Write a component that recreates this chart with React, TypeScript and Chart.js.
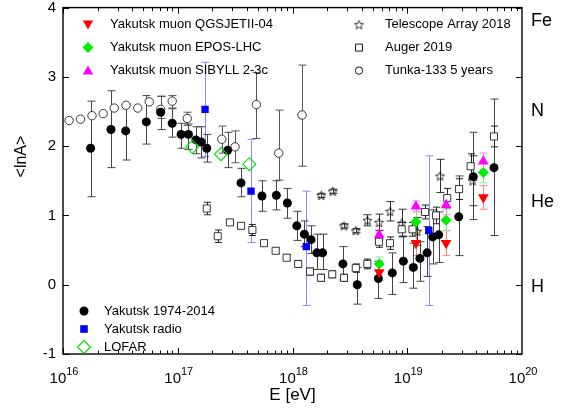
import React, { useEffect, useRef } from 'react';
import { Chart, registerables } from 'chart.js';
Chart.register(...registerables);

const FONT = '"Liberation Sans", Arial, sans-serif';

// ---- axes ----
const xMin = 1e16;
const xMax = 1e20;
const yMin = -1;
const yMax = 4;
const yTicks = [-1, 0, 1, 2, 3, 4];
const xDecades = [16, 17, 18, 19, 20];
const rightLabels = ['Fe', 'N', 'He', 'H'];
const rightLabelValues = [3.81, 2.5, 1.19, -0.03];
const xTitle = 'E [eV]';
const yTitle = '<lnA>';

// ---- Yakutsk 1974-2014 ----
const yakE = [1.74e16, 2.62e16, 3.52e16, 5.32e16, 7.10e16, 8.95e16, 1.07e17, 1.24e17, 1.44e17, 1.60e17, 1.79e17, 2.72e17, 3.56e17, 5.42e17, 7.23e17, 9.02e17, 1.09e18, 1.27e18, 1.45e18, 1.63e18, 1.83e18, 2.75e18, 3.67e18, 5.60e18, 7.41e18, 9.25e18, 1.13e19, 1.29e19, 1.49e19, 1.67e19, 1.88e19, 2.81e19, 3.76e19, 5.70e19];
const yakLnA = [1.97, 2.24, 2.22, 2.35, 2.49, 2.33, 2.17, 2.17, 2.09, 2.06, 1.97, 1.94, 1.47, 1.28, 1.29, 1.18, 0.85, 0.73, 0.65, 0.46, 0.46, 0.30, 0.00, 0.09, 0.17, 0.34, 0.25, 0.38, 0.46, 0.69, 0.72, 0.98, 1.56, 1.69];
const yakLo = [1.27, 1.69, 1.80, 2.03, 2.24, 2.13, 1.97, 1.95, 1.89, 1.83, 1.77, 1.69, 1.27, 1.06, 1.08, 0.96, 0.64, 0.55, 0.45, 0.22, 0.22, 0.07, -0.28, -0.20, -0.14, 0.03, -0.05, 0.05, 0.12, 0.30, 0.32, 0.42, 0.94, 0.71];
const yakHi = [2.65, 2.80, 2.61, 2.73, 2.72, 2.54, 2.33, 2.32, 2.28, 2.28, 2.17, 2.20, 1.68, 1.50, 1.50, 1.39, 1.06, 0.92, 0.85, 0.73, 0.73, 0.55, 0.25, 0.34, 0.46, 0.70, 0.60, 0.62, 0.84, 1.08, 1.05, 1.57, 2.20, 2.68];

// ---- Tunka-133 5 years ----
const tunE = [1.13e16, 1.42e16, 1.79e16, 2.24e16, 2.80e16, 3.54e16, 4.48e16, 5.65e16, 7.10e16, 8.95e16, 1.21e17, 2.42e17, 3.16e17, 4.84e17, 7.59e17, 1.21e18];
const tunLnA = [2.37, 2.39, 2.44, 2.47, 2.55, 2.59, 2.55, 2.64, 2.53, 2.65, 2.40, 2.10, 1.99, 2.60, 1.90, 2.45];
const tunLo = [null, null, null, null, null, null, null, null, 2.40, 2.55, 2.30, 1.90, 1.76, 2.11, 1.51, 1.71];
const tunHi = [null, null, null, null, null, null, null, null, 2.72, 2.73, 2.49, 2.29, 2.22, 3.06, 2.52, 3.17];

// ---- Auger 2019 ----
const augE = [1.79e17, 2.23e17, 2.85e17, 3.56e17, 4.47e17, 5.65e17, 7.13e17, 8.89e17, 1.12e18, 1.42e18, 1.77e18, 2.22e18, 2.81e18, 3.56e18, 4.49e18, 5.68e18, 7.08e18, 8.95e18, 1.11e19, 1.43e19, 1.78e19, 2.23e19, 2.83e19, 3.57e19, 5.70e19];
const augLnA = [1.10, 0.70, 0.90, 0.85, 0.79, 0.60, 0.49, 0.39, 0.30, 0.19, 0.10, 0.15, 0.10, 0.24, 0.30, 0.62, 0.60, 0.80, 0.80, 1.05, 1.00, 1.25, 1.38, 1.71, 2.14];
const augErr = [0.09, 0.09, 0.04, 0.04, 0.08, 0.04, 0.04, 0.04, 0.05, 0.05, 0.05, 0.05, 0.05, 0.06, 0.07, 0.08, 0.09, 0.10, 0.10, 0.10, 0.12, 0.14, 0.15, 0.18, 0.15];

// ---- Telescope Array 2018 ----
const taE = [1.78e18, 2.24e18, 2.81e18, 3.56e18, 4.49e18, 5.68e18, 7.08e18, 8.95e18, 1.22e19, 1.93e19, 3.72e19];
const taLnA = [1.29, 1.35, 0.85, 0.78, 0.93, 0.90, 1.06, 0.89, 0.77, 1.57, 1.50];
const taErr = [0.03, 0.03, 0.03, 0.03, 0.08, 0.12, 0.14, 0.20, 0.20, 0.24, 0.36];

// ---- Yakutsk muon ----
const muonE = [5.70e18, 1.19e19, 2.18e19, 4.60e19];
const muonQGS = [0.18, 0.60, 0.60, 1.26];
const muonEPOS = [0.30, 0.91, 0.93, 1.62];
const muonSIB = [0.72, 1.13, 1.15, 1.78];
const muonQGSErr = [0.12, 0.18, 0.18, 0.17];
const muonEPOSErr = [0.10, 0.15, 0.15, 0.15];
const muonSIBErr = [0.07, 0.08, 0.14, 0.12];

// ---- Yakutsk radio ----
const radE = [1.73e17, 4.35e17, 1.32e18, 1.54e19];
const radLnA = [2.53, 1.35, 0.55, 0.78];
const radLo = [1.85, 0.61, -0.30, -0.30];
const radHi = [3.21, 2.10, 1.35, 1.86];

// ---- LOFAR ----
const lofE = [1.34e17, 2.38e17, 4.21e17];
const lofLnA = [1.99, 1.885, 1.74];

const legendLeftTop = ['Yakutsk muon QGSJETII-04', 'Yakutsk muon EPOS-LHC', 'Yakutsk muon SIBYLL 2-3c'];
const legendRightTop = ['Telescope Array 2018', 'Auger 2019', 'Tunka-133 5 years'];
const legendLeftBottom = ['Yakutsk 1974-2014', 'Yakutsk radio', 'LOFAR'];

function withBounds(E: number[], v: number[], lo: (number | null)[], hi: (number | null)[]) {
  return E.map((x, i) => ({ x, y: v[i], lo: lo[i], hi: hi[i] }));
}
function withErr(E: number[], v: number[], err: number[]) {
  return E.map((x, i) => ({ x, y: v[i], lo: v[i] - err[i], hi: v[i] + err[i] }));
}

function makeStar(size: number) {
  const c = document.createElement('canvas');
  c.width = size;
  c.height = size;
  const g = c.getContext('2d')!;
  const cx = size / 2, cy = size / 2 + 0.5;
  const R = size / 2 - 0.8, r = R * 0.45;
  g.beginPath();
  for (let i = 0; i < 10; i++) {
    const a = -Math.PI / 2 + (i * Math.PI) / 5;
    const rr = i % 2 === 0 ? R : r;
    g.lineTo(cx + rr * Math.cos(a), cy + rr * Math.sin(a));
  }
  g.closePath();
  g.strokeStyle = '#000';
  g.lineWidth = 0.8;
  g.stroke();
  return c;
}

function drawMarker(ctx: CanvasRenderingContext2D, kind: string, x: number, y: number, r: number, fill: string | null, stroke: string | null, lw = 1, img?: HTMLCanvasElement) {
  ctx.save();
  if (kind === 'image' && img) {
    ctx.drawImage(img, x - img.width / 2, y - img.height / 2);
    ctx.restore();
    return;
  }
  ctx.beginPath();
  if (kind === 'circle') ctx.arc(x, y, r, 0, Math.PI * 2);
  else if (kind === 'rect') ctx.rect(x - r, y - r, 2 * r, 2 * r);
  else if (kind === 'diamond') {
    ctx.moveTo(x, y - r); ctx.lineTo(x + r, y); ctx.lineTo(x, y + r); ctx.lineTo(x - r, y); ctx.closePath();
  } else if (kind === 'tri') {
    ctx.moveTo(x, y - r); ctx.lineTo(x + r * 0.87, y + r * 0.5); ctx.lineTo(x - r * 0.87, y + r * 0.5); ctx.closePath();
  } else if (kind === 'triDown') {
    ctx.moveTo(x, y + r); ctx.lineTo(x + r * 0.87, y - r * 0.5); ctx.lineTo(x - r * 0.87, y - r * 0.5); ctx.closePath();
  }
  if (fill) { ctx.fillStyle = fill; ctx.fill(); }
  if (stroke) { ctx.strokeStyle = stroke; ctx.lineWidth = lw; ctx.stroke(); }
  ctx.restore();
}

const errorBarPlugin = {
  id: 'errbars',
  beforeDatasetsDraw(chart: any) {
    const ctx = chart.ctx;
    const xs = chart.scales.x, ys = chart.scales.y;
    ctx.save();
    chart.data.datasets.forEach((ds: any) => {
      if (!ds.errColor) return;
      ctx.strokeStyle = ds.errColor;
      ctx.lineWidth = ds.errWidth || 1;
      const cap = ds.errCap ?? 4;
      ds.data.forEach((p: any) => {
        if (p.lo == null || p.hi == null) return;
        const px = Math.round(xs.getPixelForValue(p.x)) + 0.5;
        const y1 = ys.getPixelForValue(p.lo), y2 = ys.getPixelForValue(p.hi);
        ctx.beginPath();
        ctx.moveTo(px, y1); ctx.lineTo(px, y2);
        ctx.moveTo(px - cap, y1); ctx.lineTo(px + cap, y1);
        ctx.moveTo(px - cap, y2); ctx.lineTo(px + cap, y2);
        ctx.stroke();
      });
    });
    ctx.restore();
  },
};

function makeFramePlugin(star: HTMLCanvasElement) {
  return {
    id: 'frame',
    afterDraw(chart: any) {
      const ctx: CanvasRenderingContext2D = chart.ctx;
      const xs = chart.scales.x, ys = chart.scales.y;
      const { left, right, top, bottom } = chart.chartArea;
      ctx.save();
      // frame
      ctx.strokeStyle = '#000';
      ctx.lineWidth = 1.4;
      ctx.strokeRect(left, top, right - left, bottom - top);
      // x ticks
      ctx.lineWidth = 1;
      ctx.beginPath();
      for (let d = 16; d < 20; d++) {
        for (let m = 1; m <= 9; m++) {
          const v = m * Math.pow(10, d);
          const px = Math.round(xs.getPixelForValue(v)) + 0.5;
          const len = m === 1 ? 6 : 3.5;
          ctx.moveTo(px, bottom); ctx.lineTo(px, bottom - len);
          ctx.moveTo(px, top); ctx.lineTo(px, top + len);
        }
      }
      // y ticks
      yTicks.forEach((t) => {
        const py = Math.round(ys.getPixelForValue(t)) + 0.5;
        ctx.moveTo(left, py); ctx.lineTo(left + 6, py);
        ctx.moveTo(right, py); ctx.lineTo(right - 6, py);
      });
      ctx.stroke();

      ctx.fillStyle = '#000';
      // y tick labels
      ctx.font = `15px ${FONT}`;
      ctx.textAlign = 'right';
      ctx.textBaseline = 'middle';
      yTicks.forEach((t) => {
        ctx.fillText(String(t), left - 7, ys.getPixelForValue(t));
      });
      // x tick labels 10^n
      ctx.textAlign = 'left';
      ctx.textBaseline = 'alphabetic';
      xDecades.forEach((d) => {
        const px = xs.getPixelForValue(Math.pow(10, d));
        ctx.font = `15px ${FONT}`;
        const w1 = ctx.measureText('10').width;
        ctx.font = `11px ${FONT}`;
        const w2 = ctx.measureText(String(d)).width;
        const x0 = px - (w1 + w2) / 2 + 1;
        ctx.font = `15px ${FONT}`;
        ctx.fillText('10', x0, bottom + 29);
        ctx.font = `11px ${FONT}`;
        ctx.fillText(String(d), x0 + w1, bottom + 21);
      });
      // titles
      ctx.font = `17px ${FONT}`;
      ctx.textAlign = 'center';
      ctx.textBaseline = 'middle';
      ctx.fillText(xTitle, (left + right) / 2, bottom + 41);
      ctx.save();
      ctx.translate(22, ys.getPixelForValue(1.85));
      ctx.rotate(-Math.PI / 2);
      ctx.font = `16px ${FONT}`;
      ctx.fillText(yTitle, 0, 0);
      ctx.restore();
      // right labels
      ctx.font = `18px ${FONT}`;
      ctx.textAlign = 'left';
      rightLabels.forEach((l, i) => {
        ctx.fillText(l, right + 9, ys.getPixelForValue(rightLabelValues[i]));
      });

      // legends
      ctx.font = `13px ${FONT}`;
      ctx.textAlign = 'left';
      ctx.textBaseline = 'middle';
      const lt = [top + 17, top + 40, top + 63];
      drawMarker(ctx, 'triDown', left + 25, lt[0] - 1, 6, '#ff0000', null);
      drawMarker(ctx, 'diamond', left + 25, lt[1], 5.5, '#00ee00', null);
      drawMarker(ctx, 'tri', left + 25, lt[2] + 1, 6, '#ff00ff', null);
      legendLeftTop.forEach((s, i) => { ctx.fillStyle = '#000'; ctx.fillText(s, left + 47, lt[i]); });

      drawMarker(ctx, 'image', 359, lt[0], 0, null, null, 1, star);
      drawMarker(ctx, 'rect', 359, lt[1], 3.5, '#fff', '#000', 0.9);
      drawMarker(ctx, 'circle', 359, lt[2], 3.7, '#fff', '#000', 0.9);
      legendRightTop.forEach((s, i) => { ctx.fillStyle = '#000'; ctx.fillText(s, 385, lt[i]); });

      const lb = [bottom - 43, bottom - 25, bottom - 7];
      drawMarker(ctx, 'circle', left + 21, lb[0], 4.5, '#000', null);
      drawMarker(ctx, 'rect', left + 21, lb[1], 3.8, '#0000ff', null);
      drawMarker(ctx, 'diamond', left + 21, lb[2], 6.5, null, '#00dd00', 1.1);
      legendLeftBottom.forEach((s, i) => { ctx.fillStyle = '#000'; ctx.fillText(s, left + 41, lb[i]); });
      ctx.restore();
    },
  };
}

export default function App() {
  const ref = useRef<HTMLCanvasElement>(null);
  useEffect(() => {
    document.body.style.margin = '0';
    const star = makeStar(11);
    const datasets: any[] = [
      {
        label: legendLeftTop[0], data: withErr(muonE, muonQGS, muonQGSErr),
        pointStyle: 'triangle', rotation: 180, pointRadius: 6.2, backgroundColor: '#ff0000', borderColor: '#ff0000', borderWidth: 0,
        errColor: '#ff8080', errCap: 4,
      },
      {
        label: legendLeftTop[1], data: withErr(muonE, muonEPOS, muonEPOSErr),
        pointStyle: 'rectRot', pointRadius: 5.5, backgroundColor: '#00ee00', borderColor: '#00ee00', borderWidth: 0,
        errColor: '#80f080', errCap: 4,
      },
      {
        label: legendLeftTop[2], data: withErr(muonE, muonSIB, muonSIBErr),
        pointStyle: 'triangle', pointRadius: 6.2, backgroundColor: '#ff00ff', borderColor: '#ff00ff', borderWidth: 0,
        errColor: '#ff80ff', errCap: 4,
      },
      {
        label: legendLeftBottom[1], data: withBounds(radE, radLnA, radLo, radHi),
        pointStyle: 'rect', pointRadius: 5.2, backgroundColor: '#0000ff', borderColor: '#0000ff', borderWidth: 0,
        errColor: '#8888ff', errCap: 4,
      },
      {
        label: legendLeftBottom[2], data: lofE.map((x, i) => ({ x, y: lofLnA[i] })),
        pointStyle: 'rectRot', pointRadius: 6.5, backgroundColor: 'rgba(0,0,0,0)', borderColor: '#00dd00', borderWidth: 1.1,
      },
      {
        label: legendLeftBottom[0], data: withBounds(yakE, yakLnA, yakLo, yakHi),
        pointStyle: 'circle', pointRadius: 4.5, backgroundColor: '#000', borderColor: '#000', borderWidth: 0,
        errColor: '#444', errCap: 4,
      },
      {
        label: legendRightTop[1], data: withErr(augE, augLnA, augErr),
        pointStyle: 'rect', pointRadius: 5, backgroundColor: '#fff', borderColor: '#222', borderWidth: 0.9,
        errColor: '#222', errCap: 3.5,
      },
      {
        label: legendRightTop[0], data: withErr(taE, taLnA, taErr),
        pointStyle: star, backgroundColor: '#000', borderColor: '#000',
        errColor: '#333', errCap: 4,
      },
      {
        label: legendRightTop[2], data: withBounds(tunE, tunLnA, tunLo, tunHi),
        pointStyle: 'circle', pointRadius: 4.2, backgroundColor: '#fff', borderColor: '#222', borderWidth: 0.9,
        errColor: '#555', errCap: 4,
      },
    ];
    const chart = new Chart(ref.current!, {
      type: 'scatter',
      data: { datasets },
      options: {
        animation: false,
        responsive: false,
        devicePixelRatio: 1,
        layout: { padding: { left: 63, right: 43, top: 7, bottom: 56 } },
        plugins: { legend: { display: false }, tooltip: { enabled: false } },
        scales: {
          x: { type: 'logarithmic', min: xMin, max: xMax, display: false },
          y: { type: 'linear', min: yMin, max: yMax, display: false },
        },
      },
      plugins: [errorBarPlugin, makeFramePlugin(star)],
    } as any);
    return () => chart.destroy();
  }, []);
  return <canvas ref={ref} width={565} height={410} style={{ display: 'block' }} />;
}
